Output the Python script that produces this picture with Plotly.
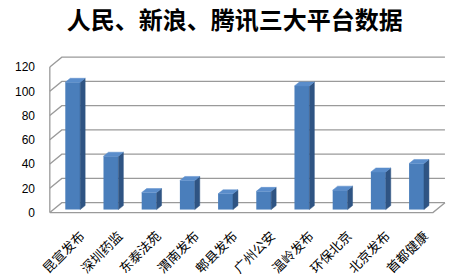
import plotly.graph_objects as go

categories = ["昆宣发布", "深圳药监", "东泰法苑", "渭南发布", "郫县发布",
              "广州公安", "温岭发布", "环保北京", "北京发布", "首都健康"]
values = [105, 44, 14, 24, 13, 15, 102, 16, 31, 38]
y_ticks = [0, 20, 40, 60, 80, 100, 120]
title = "人民、新浪、腾讯三大平台数据"

# 3D styling constants (data units)
DX, DY = 0.314, 8.2        # depth of back wall
X0, X1 = -0.6, 9.43        # front floor extent
BW = 0.39                  # bar width
SDX, SDY = 0.13, 3.3       # bar depth
BASE = 2.5
GRID = "#9a9a9a"
FRONT = "#4A7EBB"
SIDE = "#2F5483"
TOP = "#5A8DCB"

fig = go.Figure()
shapes = []

def line(pts, color=GRID, w=1.3):
    path = "M " + " L ".join(f"{x},{y}" for x, y in pts)
    shapes.append(dict(type="path", path=path, xref="x", yref="y", layer="below",
                       line=dict(color=color, width=w)))

# back wall gridlines + diagonal connectors
for t in y_ticks:
    line([(X0, t), (X0 + DX, t + DY), (X1 + DX, t + DY)])
# left front axis
line([(X0, 0), (X0, y_ticks[-1])])
# floor front edge and right diagonal
line([(X0, 0), (X1, 0), (X1 + DX, DY)])

n = len(values)
xs = list(range(n))
for i, v in enumerate(values):
    r = i + BW / 2
    l = i - BW / 2
    top = BASE + v
    # side face
    fig.add_trace(go.Scatter(
        x=[r, r + SDX, r + SDX, r, r], y=[BASE, BASE + SDY, top + SDY, top, BASE],
        mode="lines", fill="toself", fillcolor=SIDE, line=dict(color=SIDE, width=0.5),
        hoverinfo="skip", showlegend=False))
    # top face
    fig.add_trace(go.Scatter(
        x=[l, r, r + SDX, l + SDX, l], y=[top, top, top + SDY, top + SDY, top],
        mode="lines", fill="toself", fillcolor=TOP, line=dict(color=TOP, width=0.5),
        hoverinfo="skip", showlegend=False))

fig.add_trace(go.Bar(x=xs, y=values, base=[BASE] * n, width=BW,
                     marker=dict(color=FRONT, line=dict(width=0)), showlegend=False))

fig.update_layout(
    width=456, height=278,
    margin=dict(l=46, r=7, t=55, b=62.6),
    paper_bgcolor="white", plot_bgcolor="white",
    shapes=shapes,
    title=dict(text=title, x=0.515, xanchor="center", y=0.925, yanchor="middle",
               font=dict(family="Noto Sans CJK SC", size=24, color="#000000", weight="bold")),
    xaxis=dict(range=[-0.7, 9.85], tickvals=xs, ticktext=categories, tickangle=-45,
               showgrid=False, zeroline=False, showline=False, automargin=False,
               tickfont=dict(family="Noto Sans CJK SC", size=13, color="#000000"),
               ticklabelstandoff=10, ticklabelshift=8),
    yaxis=dict(range=[-2, 130], tickvals=y_ticks, showgrid=False, zeroline=False,
               showline=False, ticklabelstandoff=10, automargin=False,
               tickfont=dict(family="Arial, Liberation Sans", size=12, color="#000000")),
)

fig.write_html("out.html")
